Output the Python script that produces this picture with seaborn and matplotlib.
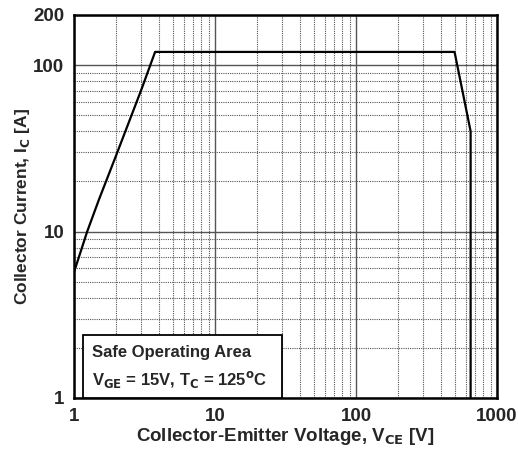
import numpy as np
import pandas as pd
import matplotlib
matplotlib.use('Agg')
import matplotlib.pyplot as plt
import seaborn as sns

# SOA boundary
vce = [1.0, 1.24, 1.5, 2.0, 3.0, 3.76, 500, 650, 650]
ic = [5.7, 10.0, 15.5, 29, 71, 120, 120, 40, 1.0]

xticks = [1, 10, 100, 1000]
yticks = [1, 10, 100, 200]

sns.set_style('white')
plt.rcParams['font.family'] = ['Liberation Sans', 'DejaVu Sans']
plt.rcParams['font.weight'] = 'bold'
plt.rcParams['mathtext.default'] = 'bf'

fig = plt.figure(figsize=(5.18, 4.53), dpi=100)
ax = fig.add_axes([74/518, 1-398/453, (497-74)/518, (398-15)/453])

df = pd.DataFrame({'vce': vce, 'ic': ic})
sns.lineplot(data=df, x='vce', y='ic', sort=False, estimator=None,
             color='black', linewidth=1.6, ax=ax, zorder=3)

ax.set_xscale('log')
ax.set_yscale('log')
ax.set_xlim(1, 1000)
ax.set_ylim(1, 200)

# grid: solid decades, dotted minors
ax.grid(True, which='major', color='#555555', linewidth=1.0, linestyle='-')
ax.grid(True, which='minor', color='#555555', linewidth=0.8, linestyle=(0, (1, 1)))
ax.set_axisbelow(True)

ax.set_xticks(xticks)
ax.set_xticklabels([str(t) for t in xticks])
ax.set_yticks(yticks)
ax.set_yticklabels([str(t) for t in yticks])
ax.tick_params(axis='both', which='both', length=0, labelsize=13.5, pad=7)
for lab in ax.get_xticklabels() + ax.get_yticklabels():
    lab.set_fontweight('bold')

for sp in ax.spines.values():
    sp.set_visible(True)
    sp.set_color('black')
    sp.set_linewidth(1.8)

ax.set_xlabel('Collector-Emitter Voltage, V$_{CE}$ [V]', fontsize=13.5, fontweight='bold', labelpad=1)
ax.set_ylabel('Collector Current, I$_C$ [A]', fontsize=12.5, fontweight='bold', labelpad=1)

box = plt.Rectangle((9/423, 0.0), (282-83)/423, (398-335)/383, transform=ax.transAxes,
                    facecolor='white', edgecolor='black', linewidth=1.3, zorder=5)
ax.add_patch(box)
ax.text(18/423, 0.107, 'Safe Operating Area', transform=ax.transAxes,
        fontsize=12, fontweight='bold', va='baseline', ha='left', zorder=6)
ax.text(18/423, 0.034, 'V$_{GE}$ = 15V, T$_C$ = 125$^{o}$C', transform=ax.transAxes,
        fontsize=12, fontweight='bold', va='baseline', ha='left', zorder=6)

fig.savefig('out.png', dpi=100)
